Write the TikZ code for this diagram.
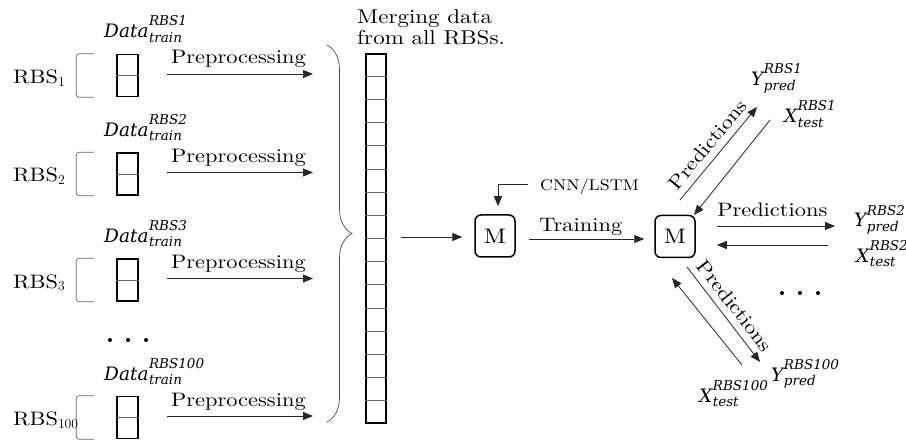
\documentclass[tikz,border=0pt]{standalone}
\usepackage{fix-cm}
\usepackage{fontspec}
\setmainfont{lmroman10-regular.otf}[FakeStretch=1.15,
  ItalicFont=lmroman10-italic.otf, BoldFont=lmroman10-bold.otf]
\newfontfamily\labfont{DejaVu Serif}
\usetikzlibrary{arrows.meta,decorations.pathreplacing,calc}

% variable with a superscript and a subscript
\newcommand{\scriptlab}{\fontsize{13.5}{14}\labfont\itshape}
\newcommand{\scriptpair}[2]{%
  \setbox0\hbox{\scriptlab #1}\setbox2\hbox{\scriptlab #2}%
  \dimen0=\ifdim\wd0>\wd2 \wd0\else\wd2\fi
  \rlap{\raise12pt\box0}\rlap{\lower4.5pt\box2}\hskip\dimen0\relax}
\newcommand{\dlab}[3]{{\labfont\itshape #1}\kern0.5pt\scriptpair{#2}{#3}}

\begin{document}
\begin{tikzpicture}[x=1pt,y=-1pt,
  font=\fontsize{19.5}{22}\selectfont,
  arr/.style={-{Triangle[length=10pt,width=8pt]}, line width=0.8pt, draw=black!85},
  thinline/.style={draw=black!60, line width=0.7pt},
  databox/.style={draw, line width=1.6pt, minimum width=21pt, minimum height=42pt, inner sep=0pt},
  mbox/.style={draw, line width=1.5pt, rounded corners=6pt, minimum width=40pt, minimum height=42pt, inner sep=0pt, font=\fontsize{21}{22}\selectfont},
  txt/.style={anchor=base west, inner sep=0pt},
  mlab/.style={anchor=base west, inner sep=0pt, font=\fontsize{18.5}{20}\selectfont},
  dot/.style={fill=black}
]
\useasboundingbox (0,0) rectangle (906,441);

% ---- per-station training data ----
\foreach \n/\c/\s/\t in {1/75.5/1/RBS1, 2/174/2/RBS2, 3/280/3/RBS3, 4/417.5/100/RBS100}{
  \node[databox] (d\n) at (127.5,\c) {};
  \draw[thinline] (d\n.west) -- (d\n.east);
  \draw[thinline, rounded corners=3pt]
    ([xshift=-22pt]d\n.north west) -- ([xshift=-40pt]d\n.north west)
    -- ([xshift=-40pt]d\n.south west) -- ([xshift=-22pt]d\n.south west);
  \node[txt] (r\n) at (13,{\c+8}) {RBS$_{\s}$};
  \node[mlab] (l\n) at (104,{\c-37.5}) {\dlab{Data}{\t}{train}};
  \coordinate (pe\n) at (313,{\c-1.5});
  \draw[arr] ([xshift=28pt,yshift=1.5pt]d\n.east) --
    node[pos=0.49, anchor=base, yshift=10pt, inner sep=0pt] (pp\n) {Preprocessing} (pe\n);
}

% dots between station 3 and station 100
\fill[dot] (110,340) circle (2pt);
\fill[dot] (128,340) circle (2pt);
\fill[dot] (146,340) circle (2pt);

% ---- merged data ----
\draw[draw=black!70, line width=0.7pt, decorate, decoration={brace, amplitude=25pt}]
  (327,45) -- (327,422);
\node[anchor=north west, align=left, inner sep=0pt, font=\fontsize{20}{21}\selectfont]
  (mtxt) at (357,9) {Merging data\\from all RBSs.};
\node[draw, line width=1.6pt, minimum width=20pt, minimum height=369pt, inner sep=0pt]
  (col) at (376,238.5) {};
\foreach \i in {1,...,15}{
  \draw[thinline] ($(col.north west)!\i/16!(col.south west)$) -- ($(col.north east)!\i/16!(col.south east)$);
}

% ---- model ----
\node[mbox] (m1) at (495,236) {M};
\node[mbox] (m2) at (675,236.5) {M};

\coordinate (cs) at (401,237);
\draw[arr] (cs) -- ([xshift=-12pt,yshift=-1pt]m1.west);

\node[txt, font=\fontsize{15.5}{18}\selectfont] (cnn) at (540,191) {CNN/LSTM};
\coordinate (cnns) at (528,184);
\draw[arr] (cnns) -| ([xshift=3pt,yshift=8pt]m1.north);

\draw[arr] ([xshift=13pt,yshift=-3pt]m1.east) --
  node[pos=0.45, anchor=base, yshift=7pt, inner sep=0pt] (trn) {Training}
  ([xshift=-10pt,yshift=-2.5pt]m2.west);

% ---- predictions for station 2 ----
\coordinate (h1e) at (835,226);
\coordinate (h2s) at (828,245);
\draw[arr] ([xshift=21pt,yshift=10.5pt]m2.east) --
  node[pos=0.47, anchor=base, yshift=9pt, inner sep=0pt] (pr2) {Predictions} (h1e);
\draw[arr] (h2s) -- ([xshift=21pt,yshift=-8.5pt]m2.east);
\node[mlab] (y2) at (854,227) {\dlab{Y}{RBS2}{pred}};
\node[mlab] (x2) at (856,262) {\dlab{X}{RBS2}{test}};

% ---- predictions for station 1 ----
\coordinate (u1s) at (680,200);
\coordinate (u1e) at (757,107);
\coordinate (u2s) at (770,120);
\coordinate (u2e) at (694,215);
\draw[arr] (u1s) -- node[midway, sloped, above=7pt, inner sep=0pt] (pr1) {Predictions} (u1e);
\draw[arr] (u2s) -- (u2e);
\node[mlab] (y1) at (751,86) {\dlab{Y}{RBS1}{pred}};
\node[mlab] (x1) at (784,123) {\dlab{X}{RBS1}{test}};

% ---- predictions for station 100 ----
\coordinate (w1s) at (687,267);
\coordinate (w1e) at (760,362);
\coordinate (w2s) at (742,365);
\coordinate (w2e) at (672,278);
\draw[arr] (w1s) -- node[midway, sloped, above=7pt, inner sep=0pt] (pr3) {Predictions} (w1e);
\draw[arr] (w2s) -- (w2e);
\node[mlab] (y3) at (771,381) {\dlab{Y}{RBS100}{pred}};
\node[mlab] (x3) at (699,402) {\dlab{X}{RBS100}{test}};

\fill[dot] (782,293) circle (2pt);
\fill[dot] (800,293) circle (2pt);
\fill[dot] (818,293) circle (2pt);
\end{tikzpicture}
\end{document}
